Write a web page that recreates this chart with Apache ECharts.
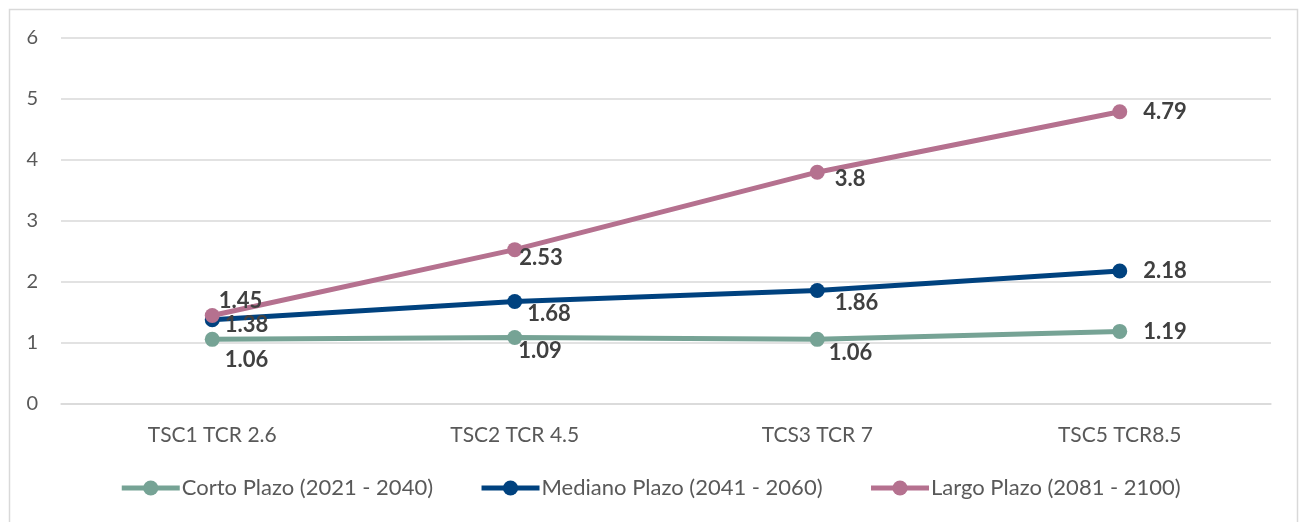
<!DOCTYPE html>
<html>
<head>
<meta charset="utf-8">
<script src="https://cdn.jsdelivr.net/npm/echarts@6/dist/echarts.min.js"></script>
<style>
  html, body { margin: 0; padding: 0; background: #fff; }
  #chart { width: 1300px; height: 522px; }
</style>
</head>
<body>
<div id="chart"></div>
<script>
// Scenario categories along the x axis
const categories = ['TSC1 TCR 2.6', 'TSC2 TCR 4.5', 'TCS3 TCR 7', 'TSC5 TCR8.5'];

// Series values per horizon
const cortoPlazo = [1.06, 1.09, 1.06, 1.19];
const medianoPlazo = [1.38, 1.68, 1.86, 2.18];
const largoPlazo = [1.45, 2.53, 3.8, 4.79];

const seriesNames = ['Corto Plazo (2021 - 2040)', 'Mediano Plazo (2041 - 2060)', 'Largo Plazo (2081 - 2100)'];

// Y axis ticks
const yTicks = [0, 1, 2, 3, 4, 5, 6];

// Label placement (x, y nudges in px) for each point, per series
const labelNudges = [
  [[5, 21], [-4, 13], [4, 14], [16, 0]],
  [[5, 5], [5, 12], [10, 12], [16, 0]],
  [[-1, -15], [-3, 8], [10, 7], [16, 0]]
];

const colors = ['#76A395', '#00427F', '#B5718F'];
const fontFamily = 'Lato, "Noto Sans", sans-serif';

function buildSeries(name, values, color, nudges) {
  return {
    name: name,
    type: 'line',
    data: values.map((v, i) => ({
      value: v,
      label: { offset: nudges[i] }
    })),
    symbol: 'circle',
    symbolSize: 15,
    lineStyle: { width: 5, color: color },
    itemStyle: { color: color },
    label: {
      show: true,
      position: 'right',
      distance: 0,
      color: '#404040',
      fontFamily: fontFamily,
      fontWeight: 'bold',
      fontSize: 22
    },
    emphasis: { disabled: true },
    animation: false
  };
}

const chart = echarts.init(document.getElementById('chart'), null, { renderer: 'canvas' });

chart.setOption({
  backgroundColor: '#ffffff',
  animation: false,
  color: colors,
  graphic: [{
    type: 'rect',
    shape: { x: 9.5, y: 9.5, width: 1288, height: 520 },
    style: { fill: 'none', stroke: '#D9D9D9', lineWidth: 1.5 },
    silent: true,
    z: -1
  }],
  grid: { left: 61, right: 29, top: 38, bottom: 118 },
  xAxis: {
    type: 'category',
    data: categories,
    boundaryGap: true,
    axisLine: { show: true, lineStyle: { color: '#D9D9D9', width: 1.5 } },
    axisTick: { show: false },
    axisLabel: {
      color: '#595959',
      fontFamily: fontFamily,
      fontSize: 21,
      margin: 21
    }
  },
  yAxis: {
    type: 'value',
    min: yTicks[0],
    max: yTicks[yTicks.length - 1],
    interval: 1,
    axisLine: { show: false },
    axisTick: { show: false },
    splitLine: { lineStyle: { color: '#D9D9D9', width: 1.5 } },
    axisLabel: {
      color: '#595959',
      fontFamily: fontFamily,
      fontSize: 20,
      margin: 23
    }
  },
  legend: {
    bottom: 18,
    left: 'center',
    itemWidth: 58,
    itemHeight: 19,
    itemGap: 46,
    data: seriesNames,
    lineStyle: { width: 5 },
    textStyle: {
      color: '#595959',
      fontFamily: fontFamily,
      fontSize: 22,
      padding: [0, 0, 0, -3]
    }
  },
  series: [
    buildSeries(seriesNames[0], cortoPlazo, colors[0], labelNudges[0]),
    buildSeries(seriesNames[1], medianoPlazo, colors[1], labelNudges[1]),
    buildSeries(seriesNames[2], largoPlazo, colors[2], labelNudges[2])
  ]
});
</script>
</body>
</html>
